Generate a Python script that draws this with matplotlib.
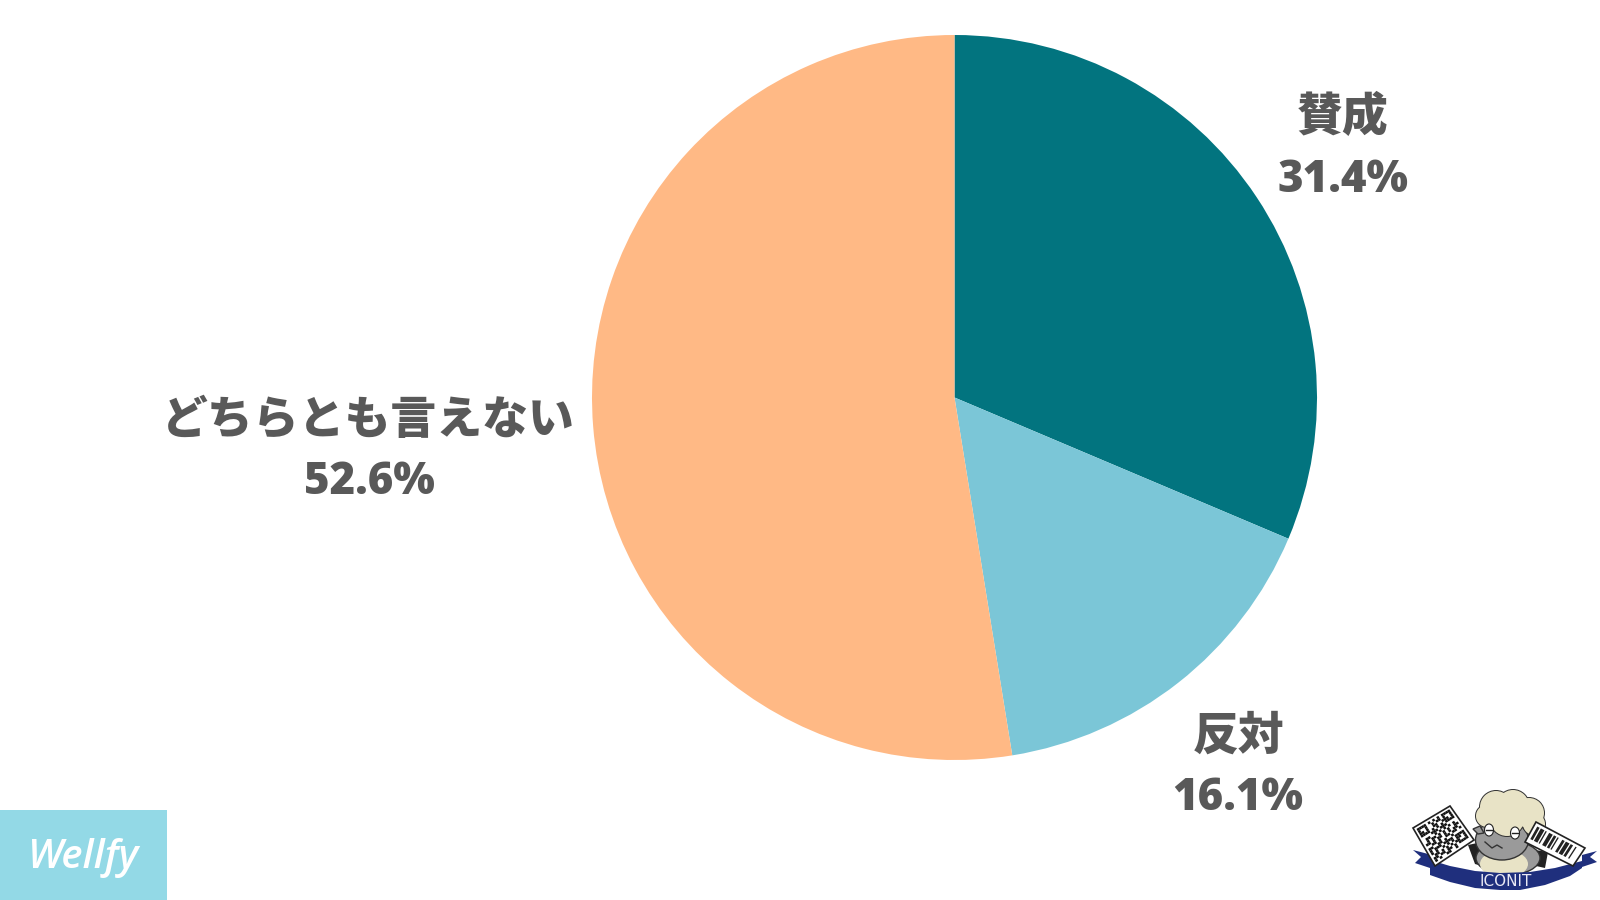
"""Pie chart of opinions (賛成 / 反対 / どちらとも言えない) with the two corner logos."""

import matplotlib

matplotlib.use("Agg")
import matplotlib.pyplot as plt
from matplotlib.patches import Ellipse, Polygon, Rectangle

categories = ["賛成", "反対", "どちらとも言えない"]
shares = [31.4, 16.1, 52.6]
slice_colors = ["#02747f", "#7bc6d7", "#ffb985"]
share_labels = ["31.4%", "16.1%", "52.6%"]

WIDTH, HEIGHT = 1600, 900
CENTER_X, CENTER_Y, RADIUS = 954.5, 397.5, 362.5
TEXT_COLOR = "#595959"
FONTS = ["Noto Sans CJK JP", "DejaVu Sans"]
NAVY = "#1f2f7d"
WOOL = "#e8e3c6"
GREY = "#9a9a9a"
OUTLINE = "#333333"

# label centres in pixels, same order as categories: x, name y, share y, share x
LABEL_POS = [(1343, 117, 180, 1343), (1239, 736, 798, 1238), (368, 420, 482, 369)]

QR_ROWS = [
    "111100101011110",
    "100101110010010",
    "101100011011010",
    "111101001011110",
    "001010110100100",
    "110111001011011",
    "010010111010100",
    "101101000111010",
    "011010110010111",
    "100111011101001",
    "000010100110110",
    "111100111010010",
    "100101001011101",
    "101101110100110",
    "111100010111011",
]
BAR_WIDTHS = [2, 1, 3, 1, 1, 2, 3, 1, 2, 1, 1, 3, 2, 1, 3, 1, 2, 2, 1, 3]
# wool lobes: centre x, centre y, diameter
WOOL_LOBES = [(1496, 807, 32), (1513, 806, 32), (1529, 813, 30), (1487, 816, 22),
              (1507, 819, 34), (1534, 824, 22)]


def lerp_card(corners, u, v):
    """Bilinear position inside a four-cornered card."""
    (x0, y0), (x1, y1), (x2, y2), (x3, y3) = corners
    top = (x0 + (x1 - x0) * u, y0 + (y1 - y0) * u)
    bottom = (x3 + (x2 - x3) * u, y3 + (y2 - y3) * u)
    return top[0] + (bottom[0] - top[0]) * v, top[1] + (bottom[1] - top[1]) * v


def draw_sheep_logo(ax):
    """Rough version of the ICONIT mascot in the lower right corner."""
    # dark shapes behind the body
    ax.add_patch(Polygon([(1468, 845), (1482, 842), (1482, 866), (1475, 864)], closed=True,
                         fc="#222222", ec="none", zorder=2))
    ax.add_patch(Polygon([(1535, 850), (1548, 852), (1545, 868), (1536, 866)], closed=True,
                         fc="#222222", ec="none", zorder=2))

    # body
    ax.add_patch(Ellipse((1508, 858), 64, 34, fc=GREY, ec=OUTLINE, lw=1, zorder=3))
    ax.add_patch(Ellipse((1504, 864), 48, 28, fc=WOOL, ec="none", zorder=3))

    # banner
    tail_left = [(1413, 850), (1432, 855), (1430, 868), (1415, 863), (1421, 857)]
    tail_right = [(1597, 851), (1582, 855), (1582, 867), (1597, 862), (1590, 857)]
    banner = [(1430, 860), (1450, 866), (1475, 871), (1500, 873), (1530, 872), (1555, 868),
              (1582, 861), (1582, 868), (1570, 876), (1545, 885), (1520, 890), (1500, 890),
              (1475, 888), (1450, 882), (1430, 875)]
    for shape in (tail_left, tail_right, banner):
        ax.add_patch(Polygon(shape, closed=True, fc=NAVY, ec="none", zorder=4))
    ax.text(1506, 881, "ICONIT", color="#e8e8f4", fontsize=11, ha="center", va="center",
            family="DejaVu Sans", zorder=5)

    # head
    ax.add_patch(Ellipse((1502, 840), 53, 40, fc=GREY, ec=OUTLINE, lw=1, zorder=5))
    ax.add_patch(Polygon([(1480, 826), (1473, 829), (1478, 834), (1484, 833)], closed=True,
                         fc=GREY, ec=OUTLINE, lw=1, zorder=5))

    # wool: dark lobes first so that only the rim stays as an outline
    for cx, cy, d in WOOL_LOBES:
        ax.add_patch(Ellipse((cx, cy), d + 2, d + 2, fc=OUTLINE, ec="none", zorder=6))
    for cx, cy, d in WOOL_LOBES:
        ax.add_patch(Ellipse((cx, cy), d, d, fc=WOOL, ec="none", zorder=7))

    # face
    for cx, cy in [(1489, 830), (1515, 833)]:
        ax.add_patch(Ellipse((cx, cy), 9, 12, fc="white", ec="#222222", lw=0.8, zorder=8))
        ax.plot([cx - 3, cx + 3], [cy, cy], color="#222222", lw=1, zorder=9)
    ax.plot([1485, 1492, 1497, 1502], [842, 848, 845, 848], color=OUTLINE, lw=1, zorder=8)

    # QR card
    qr_card = [(1450, 806), (1474, 840), (1435, 866), (1413, 828)]
    ax.add_patch(Polygon(qr_card, closed=True, fc="white", ec="#222222", lw=1.2, zorder=10))
    n = len(QR_ROWS)
    for r, row in enumerate(QR_ROWS):
        for c, cell in enumerate(row):
            if cell == "1":
                u0, u1 = (c + 1) / (n + 2), (c + 2) / (n + 2)
                v0, v1 = (r + 1) / (n + 2), (r + 2) / (n + 2)
                cell_box = [lerp_card(qr_card, u0, v0), lerp_card(qr_card, u1, v0),
                            lerp_card(qr_card, u1, v1), lerp_card(qr_card, u0, v1)]
                ax.add_patch(Polygon(cell_box, closed=True, fc="#111111", ec="none", zorder=11))

    # barcode card
    bar_card = [(1536, 822), (1585, 848), (1573, 866), (1525, 842)]
    ax.add_patch(Polygon(bar_card, closed=True, fc="white", ec="#222222", lw=1.2, zorder=10))
    total = sum(BAR_WIDTHS) * 1.0
    pos = 0
    for i, w in enumerate(BAR_WIDTHS):
        if i % 2 == 0:
            u0, u1 = 0.06 + 0.88 * pos / total, 0.06 + 0.88 * (pos + w) / total
            bar_box = [lerp_card(bar_card, u0, 0.15), lerp_card(bar_card, u1, 0.15),
                       lerp_card(bar_card, u1, 0.78), lerp_card(bar_card, u0, 0.78)]
            ax.add_patch(Polygon(bar_box, closed=True, fc="#222222", ec="none", zorder=11))
        pos += w


def main():
    fig = plt.figure(figsize=(WIDTH / 100, HEIGHT / 100), dpi=100, facecolor="white")

    pie_ax = fig.add_axes([(CENTER_X - RADIUS) / WIDTH,
                           (HEIGHT - CENTER_Y - RADIUS) / HEIGHT,
                           2 * RADIUS / WIDTH, 2 * RADIUS / HEIGHT])
    pie_ax.pie(shares, colors=slice_colors, startangle=90, counterclock=False, radius=1)
    pie_ax.set_xlim(-1, 1)
    pie_ax.set_ylim(-1, 1)

    # overlay in pixel coordinates for the labels and logos
    ax = fig.add_axes([0, 0, 1, 1], facecolor="none")
    ax.set_xlim(0, WIDTH)
    ax.set_ylim(HEIGHT, 0)
    ax.axis("off")

    for name, share, (x, y_name, y_share, x_share) in zip(categories, share_labels, LABEL_POS):
        ax.text(x, y_name, name, color=TEXT_COLOR, fontsize=33, fontweight="black",
                family=FONTS, ha="center", va="center")
        ax.text(x_share, y_share, share, color=TEXT_COLOR, fontsize=31.5, fontweight=800,
                family=["Open Sans", "DejaVu Sans"], ha="center", va="center")

    ax.add_patch(Rectangle((0, 810), 167, 90, fc="#93d9e6", ec="none"))
    ax.text(83, 858, "Wellfy", color="white", fontsize=29, fontweight="semibold",
            fontstyle="italic", family=["Open Sans", "DejaVu Sans"], ha="center", va="center")

    draw_sheep_logo(ax)

    fig.savefig("out.png", dpi=100)


if __name__ == "__main__":
    main()
